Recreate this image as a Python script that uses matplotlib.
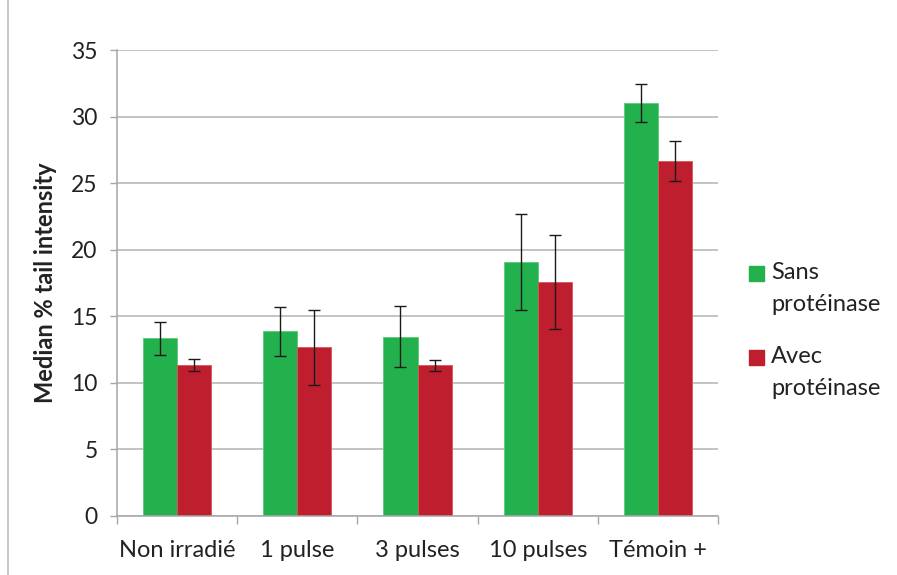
import matplotlib.pyplot as plt
from matplotlib.patches import Rectangle
from matplotlib.lines import Line2D
import numpy as np

plt.rcParams['font.family'] = ['Lato', 'DejaVu Sans']

categories = ['Non irradié', '1 pulse', '3 pulses', '10 pulses', 'Témoin +']
sans = [13.35, 13.87, 13.47, 19.1, 31.03]
sans_err = [1.25, 1.83, 2.3, 3.6, 1.45]
avec = [11.35, 12.67, 11.33, 17.6, 26.63]
avec_err = [0.43, 2.83, 0.42, 3.53, 1.5]
labels = ['Sans\nprotéinase', 'Avec\nprotéinase']

vert = '#23B14D'
rouge = '#BE1E2D'
texte = '#222222'
gris = '#A6A6A6'

fig = plt.figure(figsize=(8.97, 5.75), dpi=100)
ax = fig.add_axes([117 / 897, 1 - 516 / 575, (718 - 117) / 897, (516 - 50) / 575])

x = np.arange(len(categories))
w = 0.283
ax.bar(x - w / 2, sans, w, color=vert, edgecolor='#5CC97E', linewidth=0.6, zorder=2)
ax.bar(x + w / 2, avec, w, color=rouge, edgecolor='#D9545F', linewidth=0.6, zorder=2)
ax.errorbar(x - w / 2, sans, yerr=sans_err, fmt='none', ecolor='#1a1a1a', elinewidth=1, capsize=4, capthick=1, zorder=3)
ax.errorbar(x + w / 2, avec, yerr=avec_err, fmt='none', ecolor='#1a1a1a', elinewidth=1, capsize=4, capthick=1, zorder=3)

ax.set_xlim(-0.5, len(categories) - 0.5)
ax.set_ylim(0, 35)
ax.set_yticks(range(0, 36, 5))
ax.yaxis.grid(True, color='#B3B3B3', linewidth=1.1, zorder=0)
ax.set_axisbelow(True)

ax.set_xticks(x)
ax.set_xticklabels(categories, fontsize=17, color=texte)
ax.set_xticks(np.arange(-0.5, len(categories)), minor=True)
ax.tick_params(axis='x', which='major', length=0, pad=17)
ax.tick_params(axis='x', which='minor', length=6, color=gris, width=1)
ax.tick_params(axis='y', length=5, color=gris, width=1, labelsize=16.5, labelcolor=texte, pad=9)

for s in ['top', 'right']:
    ax.spines[s].set_visible(False)
for s in ['left', 'bottom']:
    ax.spines[s].set_color(gris)
    ax.spines[s].set_linewidth(1.1)

ax.set_ylabel('Median % tail intensity', fontsize=17, fontweight='bold', color=texte, labelpad=10)

# legende a la main
couleurs = [vert, rouge]
ys = [266, 350]
for c, lab, y0 in zip(couleurs, labels, ys):
    fig.add_artist(Rectangle((749 / 897, 1 - (y0 + 15) / 575), 15 / 897, 15 / 575,
                             transform=fig.transFigure, color=c))
    fig.text(771 / 897, 1 - (y0 - 4) / 575, lab, fontsize=17, color=texte,
             va='top', ha='left', linespacing=1.65)

fig.add_artist(Line2D([8 / 897, 8 / 897], [0, 1], transform=fig.transFigure, color='#C8C8C8', linewidth=1.5))

fig.savefig('out.png', dpi=100)
